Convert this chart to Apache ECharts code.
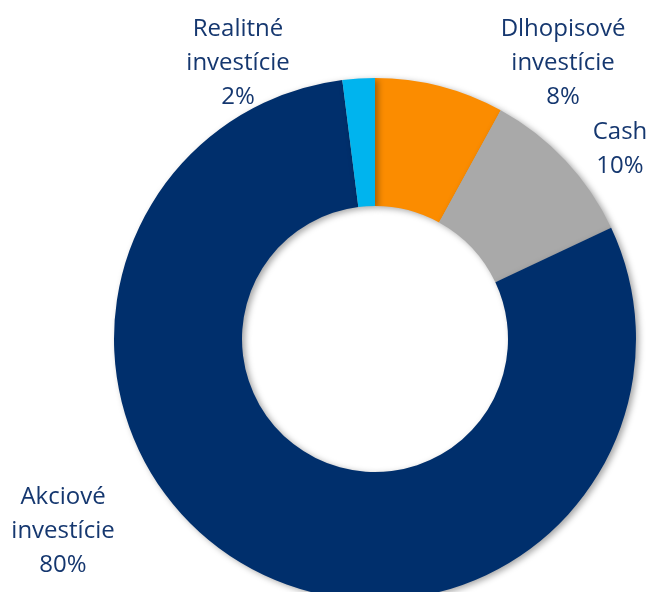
<!DOCTYPE html>
<html>
<head>
<meta charset="utf-8">
<script src="https://cdn.jsdelivr.net/npm/echarts@6/dist/echarts.min.js"></script>
<style>
html,body{margin:0;padding:0;background:#fff;}
#c{width:649px;height:592px;}
</style>
</head>
<body>
<div id="c"></div>
<script>
const categories = ["Dlhopisové\ninvestície", "Cash", "Akciové\ninvestície", "Realitné\ninvestície"];
const values = [8, 10, 80, 2];
const colors = ["#fb8c00", "#a9a9a9", "#002f6c", "#00b4ee"];
const labelPos = [[563, 63], [620, 149], [63, 531], [238, 63]];

const chart = echarts.init(document.getElementById('c'), null, {renderer: 'canvas'});
chart.setOption({
  animation: false,
  backgroundColor: '#ffffff',
  series: [{
    type: 'pie',
    center: [375, 339],
    radius: [133, 261],
    startAngle: 90,
    clockwise: true,
    avoidLabelOverlap: false,
    data: categories.map((c, i) => ({name: c, value: values[i], itemStyle: {color: colors[i]}})),
    itemStyle: {
      shadowBlur: 6,
      shadowOffsetX: 3,
      shadowOffsetY: 2,
      shadowColor: 'rgba(0,0,0,0.35)'
    },
    label: {
      show: true,
      formatter: p => p.name + '\n' + p.value + '%',
      color: '#15376f',
      fontFamily: 'Open Sans',
      fontSize: 24,
      lineHeight: 34,
      align: 'center'
    },
    labelLine: {show: false},
    labelLayout: function (params) {
      const p = labelPos[params.dataIndex];
      return {x: p[0], y: p[1], align: 'center', verticalAlign: 'middle'};
    }
  }]
});
</script>
</body>
</html>
